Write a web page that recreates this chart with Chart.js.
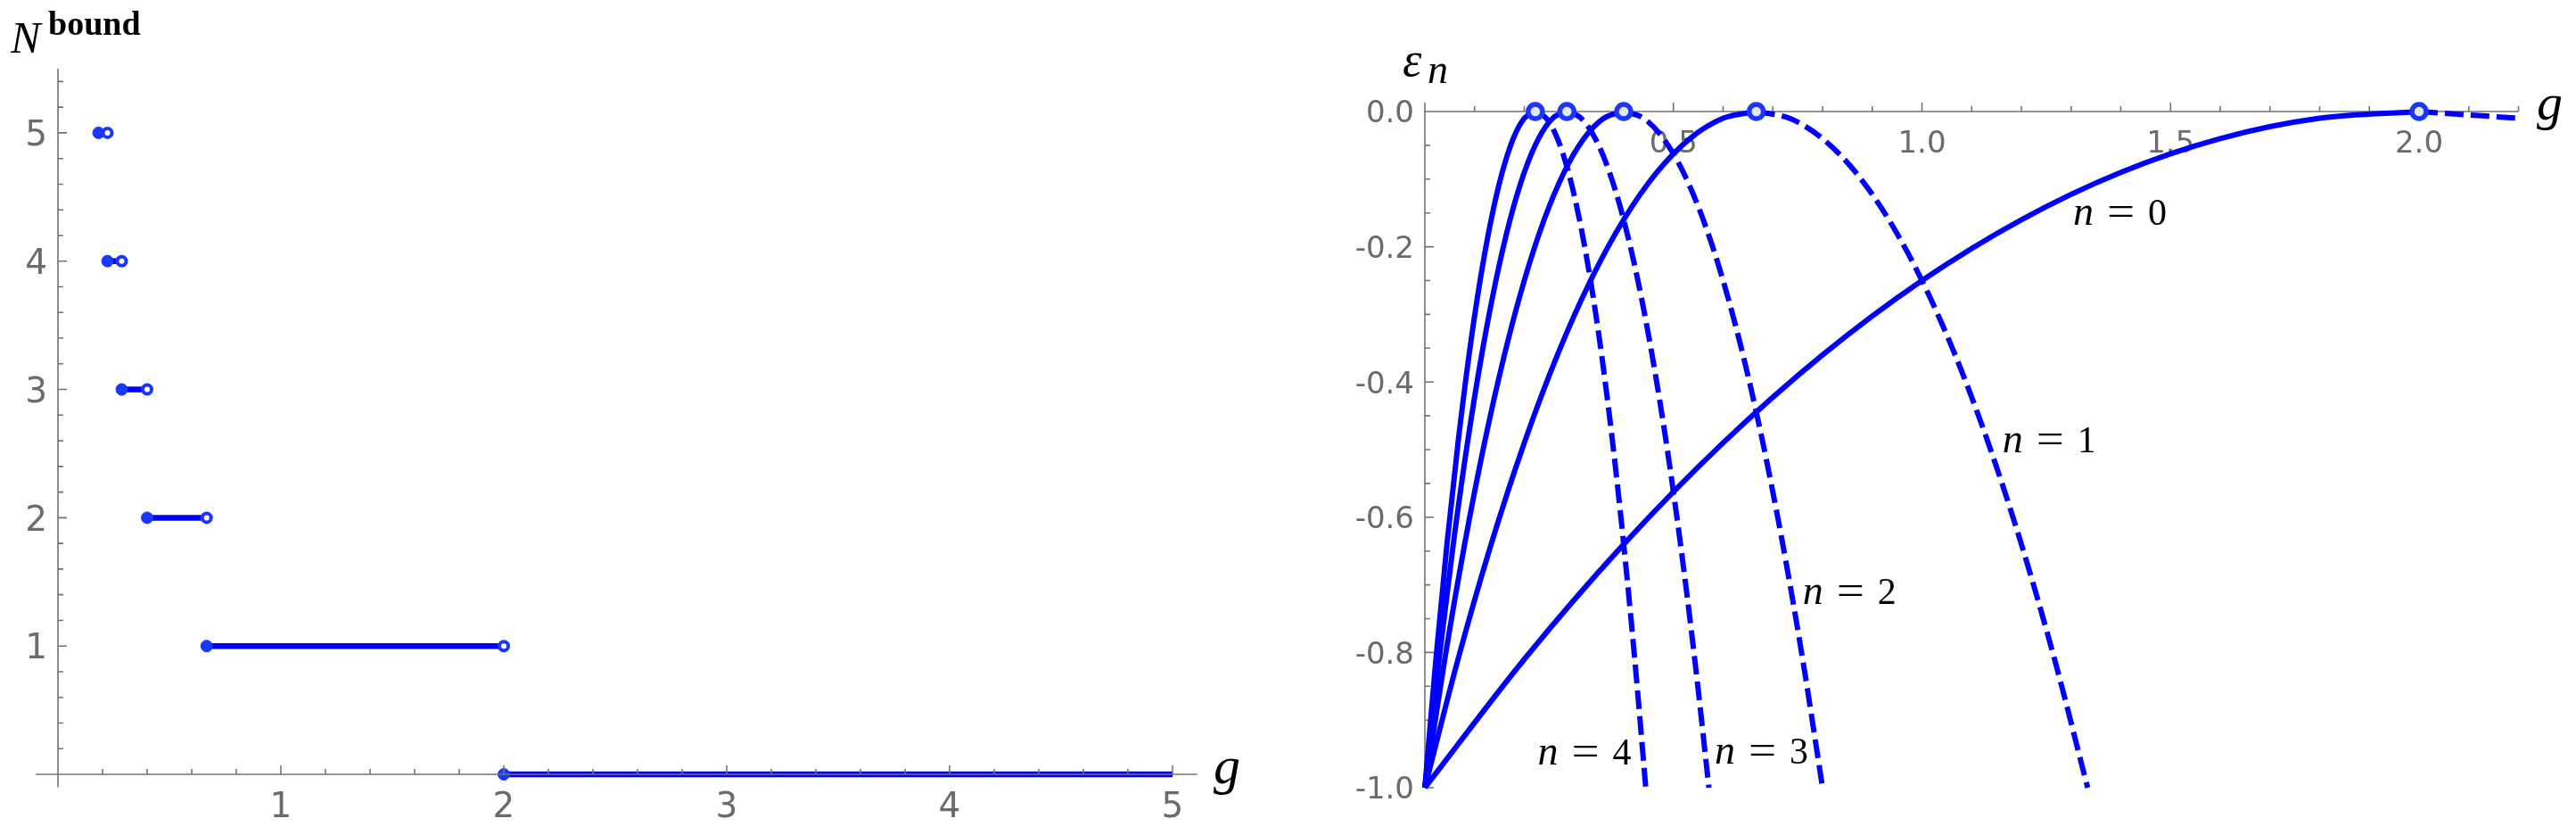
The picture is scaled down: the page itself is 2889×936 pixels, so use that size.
<!DOCTYPE html>
<html>
<head>
<meta charset="utf-8">
<script src="https://cdn.jsdelivr.net/npm/chart.js@4.4.0/dist/chart.umd.min.js"></script>
<style>
	html, body { margin: 0; padding: 0; background: #fff; }
	#wrap { position: relative; width: 2889px; height: 936px; }
	canvas { position: absolute; top: 0; }
	#left { left: 0; }
	#right { left: 1440px; }
</style>
</head>
<body>
<div id="wrap">
	<canvas id="left" width="1420" height="936"></canvas>
	<canvas id="right" width="1449" height="936"></canvas>
</div>
<script>
// -- DATA ---------------//
// left panel: number of bound states N on intervals of g
const levels   = [5, 4, 3, 2, 1, 0];
const segStart = [0.182, 0.222, 0.286, 0.4, 0.667, 2];
const segEnd   = [0.222, 0.286, 0.4, 0.667, 2, 5];
const xTicksL  = [1, 2, 3, 4, 5];
const yTicksL  = [1, 2, 3, 4, 5];

// right panel: energies eps_n(g), solid up to the peak, dashed after it
const epsRise = [-1, -0.81, -0.64, -0.49, -0.36, -0.25, -0.16, -0.09, -0.04, -0.01, 0];
const epsFall = [0, -0.01, -0.04, -0.09, -0.16, -0.25, -0.36, -0.49, -0.64, -0.81, -1];
const gRise0 = [0, 0.2, 0.4, 0.6, 0.8, 1.0, 1.2, 1.4, 1.6, 1.8, 2.0];
const gFall0 = [2.0, 2.2];
const gRise1 = [0, 0.0667, 0.1333, 0.2, 0.2667, 0.3333, 0.4, 0.4667, 0.5333, 0.6, 0.6667];
const gFall1 = [0.6667, 0.7333, 0.8, 0.8667, 0.9333, 1.0, 1.0667, 1.1333, 1.2, 1.2667, 1.3333];
const gRise2 = [0, 0.04, 0.08, 0.12, 0.16, 0.2, 0.24, 0.28, 0.32, 0.36, 0.4];
const gFall2 = [0.4, 0.44, 0.48, 0.52, 0.56, 0.6, 0.64, 0.68, 0.72, 0.76, 0.8];
const gRise3 = [0, 0.0286, 0.0571, 0.0857, 0.1143, 0.1429, 0.1714, 0.2, 0.2286, 0.2571, 0.2857];
const gFall3 = [0.2857, 0.3143, 0.3429, 0.3714, 0.4, 0.4286, 0.4571, 0.4857, 0.5143, 0.5429, 0.5714];
const gRise4 = [0, 0.0222, 0.0444, 0.0667, 0.0889, 0.1111, 0.1333, 0.1556, 0.1778, 0.2, 0.2222];
const gFall4 = [0.2222, 0.2444, 0.2667, 0.2889, 0.3111, 0.3333, 0.3556, 0.3778, 0.4, 0.4222, 0.4444];
const peakG   = [2, 0.6667, 0.4, 0.2857, 0.2222];
const peakEps = [0, 0, 0, 0, 0];
const curveNames = ['0', '1', '2', '3', '4'];
const xTicksR = [0.5, 1.0, 1.5, 2.0];
const yTicksR = [0, -0.2, -0.4, -0.6, -0.8, -1.0];

// where the "n = k" labels sit, in (g, eps)
const nameAt = [[1.304, -0.168], [1.162, -0.504], [0.760, -0.728], [0.583, -0.964], [0.227, -0.966]];

// -- STYLE ---------------//
const BLUE = 'rgb(0,0,255)';
const MARK = 'rgb(25,55,255)';
const AXIS = '#737373';
const TICKTXT = '#6b6b6b';
const SERIF = '"Liberation Serif", "Times New Roman", serif';
const SANS = '"DejaVu Sans", sans-serif';

function pts(xs, ys) {
	return xs.map((x, i) => ({ x: x, y: ys[i] }));
}

// Mathematica-like axes through the origin, ticks pointing inward
function drawAxes(chart, o) {
	const ctx = chart.ctx, sx = chart.scales.x, sy = chart.scales.y;
	const X = v => sx.getPixelForValue(v), Y = v => sy.getPixelForValue(v);
	const ox = X(0), oy = Y(0);
	ctx.save();
	ctx.strokeStyle = AXIS;
	ctx.lineWidth = 1.6;
	ctx.beginPath();
	ctx.moveTo(X(o.xSpan[0]), oy); ctx.lineTo(X(o.xSpan[1]), oy);
	ctx.moveTo(ox, Y(o.ySpan[0])); ctx.lineTo(ox, Y(o.ySpan[1]));
	for (let k = 1; k * o.xStep <= o.xSpan[1] + 1e-9; k++) {
		const major = k % o.xEvery === 0;
		const px = X(k * o.xStep);
		ctx.moveTo(px, oy); ctx.lineTo(px, oy - (major ? 10 : 6));
	}
	for (let k = 1; ; k++) {
		const v = o.yDir * k * o.yStep;
		if (o.yDir > 0 ? v > o.ySpan[1] + 1e-9 : v < o.ySpan[0] - 1e-9) break;
		const major = k % o.yEvery === 0;
		const py = Y(v);
		ctx.moveTo(ox, py); ctx.lineTo(ox + (major ? 10 : 6), py);
	}
	ctx.stroke();

	ctx.fillStyle = TICKTXT;
	ctx.font = o.tickFont + 'px ' + SANS;
	ctx.textAlign = 'center';
	ctx.textBaseline = 'alphabetic';
	o.xTicks.forEach(v => ctx.fillText(o.fmt(v), X(v), oy + o.xLabelDrop));
	ctx.textAlign = 'right';
	o.yTicks.forEach(v => ctx.fillText(o.fmt(v), ox - 12, Y(v) + o.tickFont * 0.365));
	ctx.restore();
}

function text(ctx, s, x, y, size, style) {
	ctx.font = (style ? style + ' ' : '') + size + 'px ' + SERIF;
	ctx.fillText(s, x, y);
}

// -- LEFT CHART ---------------//
const leftSets = levels.map((n, i) => ({
	data: [{ x: segStart[i], y: n }, { x: segEnd[i], y: n }],
	showLine: true,
	borderColor: BLUE,
	borderWidth: 6.5,
	pointRadius: [6.5, n === 0 ? 0 : 5],
	pointBackgroundColor: [MARK, '#ffffff'],
	pointBorderColor: MARK,
	pointBorderWidth: [1, 4],
	clip: false,
}));

const leftAxes = {
	xSpan: [-0.1, 5.11], ySpan: [-0.1, 5.5],
	xStep: 0.2, xEvery: 5, yStep: 0.2, yEvery: 5, yDir: 1,
	xTicks: xTicksL, yTicks: yTicksL, fmt: v => String(v),
	tickFont: 39, xLabelDrop: 48,
};

const myChart1 = new Chart(document.getElementById('left').getContext('2d'), {
	type: 'scatter',
	data: { datasets: leftSets },
	options: {
		responsive: false,
		animation: false,
		devicePixelRatio: 1,
		events: [],
		layout: { padding: { left: 40, right: 75, top: 77, bottom: 53.6 } },
		plugins: { legend: { display: false }, tooltip: { enabled: false } },
		scales: {
			x: { type: 'linear', min: -0.1, max: 5.12, display: false },
			y: { type: 'linear', min: -0.1, max: 5.5, display: false },
		},
	},
	plugins: [{
		id: 'axesLeft',
		afterDatasetsDraw: chart => drawAxes(chart, leftAxes),
		afterDraw: chart => {
			const ctx = chart.ctx;
			ctx.save();
			ctx.fillStyle = '#000';
			ctx.textAlign = 'left';
			ctx.textBaseline = 'alphabetic';
			text(ctx, 'N', 12, 59, 50, 'italic');
			text(ctx, 'bound', 54, 39, 38, 'bold');
			text(ctx, 'g', 1361, 878, 60, 'italic');
			ctx.restore();
		},
	}],
});

// -- RIGHT CHART ---------------//
const rises = [gRise0, gRise1, gRise2, gRise3, gRise4];
const falls = [gFall0, gFall1, gFall2, gFall3, gFall4];

const rightSets = [{
	// open circles at the thresholds, first so they sit on top
	data: pts(peakG, peakEps),
	showLine: false,
	pointRadius: 8,
	pointBorderWidth: 5.5,
	pointBackgroundColor: '#e6e6e6',
	pointBorderColor: MARK,
	clip: false,
}];
rises.forEach(g => rightSets.push({
	data: pts(g, epsRise),
	showLine: true,
	borderColor: BLUE,
	borderWidth: 6,
	pointRadius: 0,
	cubicInterpolationMode: 'monotone',
	clip: false,
}));
falls.forEach(g => rightSets.push({
	data: pts(g, epsFall.slice(0, g.length)),
	showLine: true,
	borderColor: BLUE,
	borderWidth: 6,
	borderDash: [21, 8],
	pointRadius: 0,
	cubicInterpolationMode: 'monotone',
	clip: false,
}));

const rightAxes = {
	xSpan: [0, 2.2], ySpan: [-1, 0.0132],
	xStep: 0.1, xEvery: 5, yStep: 0.05, yEvery: 4, yDir: -1,
	xTicks: xTicksR, yTicks: yTicksR, fmt: v => v.toFixed(1),
	tickFont: 34, xLabelDrop: 46,
};

const myChart2 = new Chart(document.getElementById('right').getContext('2d'), {
	type: 'scatter',
	data: { datasets: rightSets },
	options: {
		responsive: false,
		animation: false,
		devicePixelRatio: 1,
		events: [],
		layout: { padding: { left: 158, right: 64.5, top: 115, bottom: 53 } },
		plugins: { legend: { display: false }, tooltip: { enabled: false } },
		scales: {
			x: { type: 'linear', min: 0, max: 2.2, display: false },
			y: { type: 'linear', min: -1, max: 0.0132, display: false },
		},
	},
	plugins: [{
		id: 'axesRight',
		beforeDatasetsDraw: chart => drawAxes(chart, rightAxes),
		afterDraw: chart => {
			const ctx = chart.ctx, sx = chart.scales.x, sy = chart.scales.y;
			ctx.save();
			ctx.fillStyle = '#000';
			ctx.textAlign = 'left';
			ctx.textBaseline = 'alphabetic';
			text(ctx, '\u03b5', 133, 85, 54, 'italic');
			text(ctx, 'n', 161, 93, 46, 'italic');
			text(ctx, 'g', 1405, 134, 58, 'italic');
			// "n = k" curve labels
			curveNames.forEach((k, i) => {
				const x0 = sx.getPixelForValue(nameAt[i][0]);
				const y0 = sy.getPixelForValue(nameAt[i][1]);
				text(ctx, 'n', x0, y0, 46, 'italic');
				ctx.save();
				ctx.translate(x0 + 38, y0);
				ctx.scale(1.2, 1);
				text(ctx, '=', 0, 0, 46, '');
				ctx.restore();
				text(ctx, k, x0 + 84, y0, 42, '');
			});
			ctx.restore();
		},
	}],
});
</script>
</body>
</html>
